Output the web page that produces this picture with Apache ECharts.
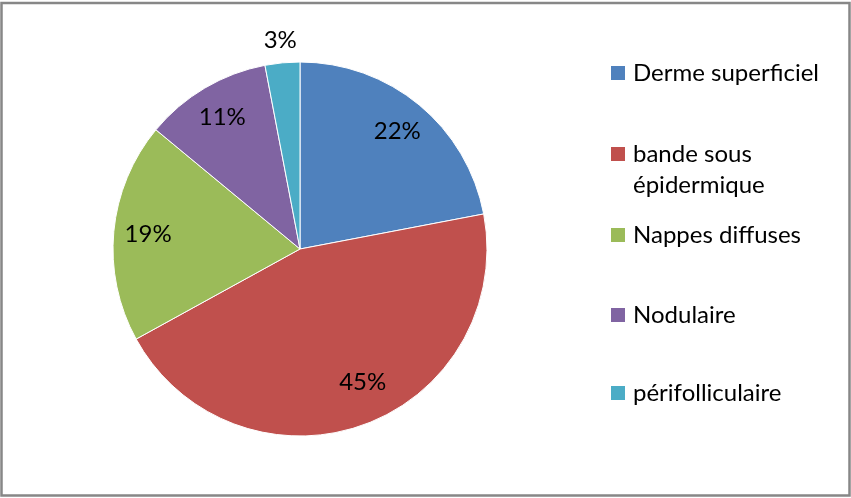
<!DOCTYPE html>
<html>
<head>
<meta charset="utf-8">
<script src="https://cdn.jsdelivr.net/npm/echarts@6/dist/echarts.min.js"></script>
<style>
  html, body { margin: 0; padding: 0; background: #ffffff; }
  #chart { width: 851px; height: 498px; }
</style>
</head>
<body>
<div id="chart"></div>
<script>
// Répartition des localisations (en %)
const categories = ['Derme superficiel', 'bande sous épidermique', 'Nappes diffuses', 'Nodulaire', 'périfolliculaire'];
const values = [22, 45, 19, 11, 3];
const colors = ['#4F81BD', '#C0504D', '#9BBB59', '#8064A2', '#4BACC6'];
// Slices whose percentage is written outside the pie
const outsideLabels = ['périfolliculaire'];

const FONT = 'Lato';
const FONT_SIZE = 24;
const CENTER = [300, 249];
const R = 187;
// Small nudges for labels that sit off the slice bisector
const labelNudge = { 'bande sous épidermique': [11, -10] };

const chart = echarts.init(document.getElementById('chart'), null, { renderer: 'canvas' });

const baseData = categories.map((name, i) => ({ name, value: values[i], itemStyle: { color: colors[i] } }));

// Percent labels inside the slices, placed on a ring near the rim
const innerLabelData = categories.map((name, i) => ({
  name, value: values[i],
  label: { show: outsideLabels.indexOf(name) < 0, offset: labelNudge[name] || [0, 0] }
}));
// Percent labels just outside the rim
const outerLabelData = categories.map((name, i) => ({
  name, value: values[i],
  label: { show: outsideLabels.indexOf(name) >= 0 }
}));

const labelStyle = {
  position: 'inside',
  formatter: '{c}%',
  color: '#000000',
  fontFamily: FONT,
  fontSize: FONT_SIZE
};

const legendCenters = [73, 154, 235, 315, 393];
const legendLine = 31;
const legends = categories.map((name, i) => {
  const lines = name === 'bande sous épidermique' ? 3 : 1;
  return {
    orient: 'vertical',
    left: 611,
    top: legendCenters[i] - (lines * legendLine) / 2,
    padding: 0,
    itemWidth: 14,
    itemHeight: 14,
    icon: 'rect',
    selectedMode: false,
    itemStyle: { borderWidth: 0 },
    data: [name],
    formatter: n => (n === 'bande sous épidermique' ? '\nbande sous\népidermique' : n),
    textStyle: {
      fontFamily: FONT, fontSize: FONT_SIZE, color: '#000000',
      lineHeight: legendLine, padding: [0, 0, 0, 3]
    }
  };
});

chart.setOption({
  animation: false,
  backgroundColor: '#ffffff',
  legend: legends,
  graphic: [{
    type: 'rect',
    shape: { x: 1.5, y: 3, width: 848, height: 492.5 },
    style: { fill: 'none', stroke: '#878787', lineWidth: 2.5 },
    silent: true
  }],
  series: [
    {
      type: 'pie',
      center: CENTER,
      radius: R,
      startAngle: 90,
      clockwise: true,
      avoidLabelOverlap: false,
      label: { show: false },
      labelLine: { show: false },
      itemStyle: { borderColor: '#ffffff', borderWidth: 1 },
      emphasis: { disabled: true },
      data: baseData
    },
    {
      type: 'pie',
      center: CENTER,
      radius: [R * 0.6, R],
      startAngle: 90,
      clockwise: true,
      silent: true,
      avoidLabelOverlap: false,
      itemStyle: { color: 'rgba(0,0,0,0)' },
      label: labelStyle,
      labelLine: { show: false },
      emphasis: { disabled: true },
      data: innerLabelData
    },
    {
      type: 'pie',
      center: CENTER,
      radius: [R, R + 40],
      startAngle: 90,
      clockwise: true,
      silent: true,
      avoidLabelOverlap: false,
      itemStyle: { color: 'rgba(0,0,0,0)' },
      label: labelStyle,
      labelLine: { show: false },
      emphasis: { disabled: true },
      data: outerLabelData
    }
  ]
});
</script>
</body>
</html>
